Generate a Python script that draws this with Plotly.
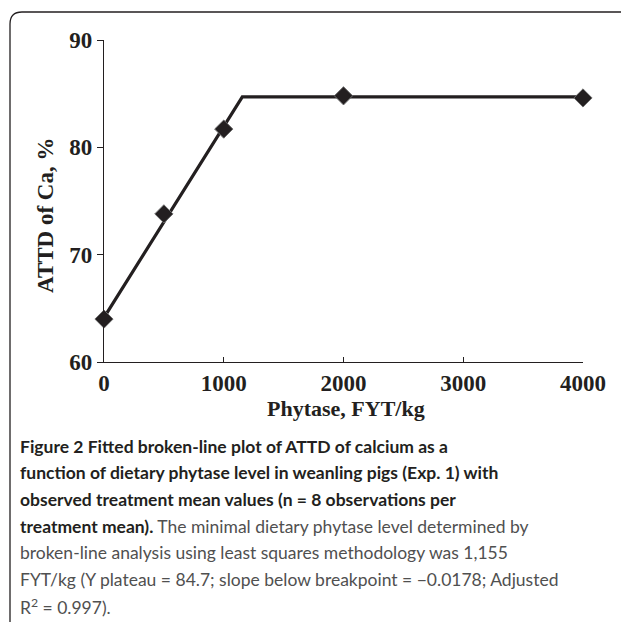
import plotly.graph_objects as go

# Observed treatment means
phytase = [0, 500, 1000, 2000, 4000]
attd_ca = [64.0, 73.8, 81.7, 84.8, 84.6]

# Fitted broken-line (breakpoint at 1,155 FYT/kg, plateau 84.7)
fit_x = [0, 1155, 4000]
fit_y = [64.14, 84.7, 84.7]

x_ticks = [0, 1000, 2000, 3000, 4000]
y_ticks = [60, 70, 80, 90]

OFF = 8  # default page body margin
W, H = 629 - OFF, 630 - 2 * OFF
L, R, T, B = 104, 583, 40, 362  # plot area in page pixels


def px(x):
    return (x - L) / (R - L)


def py(y):
    return (B - y) / (B - T)


fig = go.Figure()
fig.add_trace(go.Scatter(x=fit_x, y=fit_y, mode="lines",
                         line=dict(color="#231f20", width=3.2),
                         hoverinfo="skip", cliponaxis=False))
fig.add_trace(go.Scatter(x=phytase, y=attd_ca, mode="markers",
                         marker=dict(symbol="diamond", size=14, color="#231f20",
                                     line=dict(color="#6b6b6b", width=1)),
                         cliponaxis=False))

serif = "Liberation Serif, Times New Roman, serif"
sans = "Lato, Open Sans, sans-serif"

fig.update_xaxes(range=[0, 4000], tickvals=x_ticks, ticktext=[str(v) for v in x_ticks],
                 showgrid=False, zeroline=False, showline=True, linecolor="#231f20",
                 linewidth=1.2, ticks="inside", ticklen=5, tickcolor="#231f20",
                 tickfont=dict(family=serif, size=23, color="#231f20", weight="bold"),
                 ticklabelstandoff=0)
fig.update_yaxes(range=[60, 90], tickvals=y_ticks, ticktext=[str(v) for v in y_ticks],
                 showgrid=False, zeroline=False, showline=True, linecolor="#231f20",
                 linewidth=1.2, ticks="outside", ticklen=6, tickcolor="#231f20",
                 tickfont=dict(family=serif, size=23, color="#231f20", weight="bold"))

annotations = [
    dict(text="<b>Phytase, FYT/kg</b>", x=px(346), y=py(408), xref="paper", yref="paper",
         showarrow=False, font=dict(family=serif, size=22, color="#231f20"),
         xanchor="center", yanchor="middle"),
    dict(text="<b>ATTD of Ca, %</b>", x=px(46), y=py(216), xref="paper", yref="paper",
         showarrow=False, textangle=-90, font=dict(family=serif, size=23, color="#231f20"),
         xanchor="center", yanchor="middle"),
]

grey = "#505050"
cap_lines = [
    "<b>Figure 2 Fitted broken-line plot of ATTD of calcium as a</b>",
    "<b>function of dietary phytase level in weanling pigs (Exp. 1) with</b>",
    "<b>observed treatment mean values (n = 8 observations per</b>",
    "<b>treatment mean).</b><span style='color:%s'> The minimal dietary phytase level determined by</span>" % grey,
    "<span style='color:%s'>broken-line analysis using least squares methodology was 1,155</span>" % grey,
    "<span style='color:%s'>FYT/kg (Y plateau = 84.7; slope below breakpoint = \u22120.0178; Adjusted</span>" % grey,
    "<span style='color:%s'>R<sup>2</sup> = 0.997).</span>" % grey,
]
y0 = 446
for i, t in enumerate(cap_lines):
    annotations.append(dict(text=t, x=px(18), y=py(y0 + i * 26.7), xref="paper", yref="paper",
                            showarrow=False, xanchor="left", yanchor="middle",
                            font=dict(family=sans, size=17.5, color="#231f20")))

# Rounded frame around figure (right and bottom run off the image)
x1, x2, y1, y2, r = 10, 637, 12, 640, 12
path = (f"M {px(x1)},{py(y2)} L {px(x1)},{py(y1 + r)} "
        f"Q {px(x1)},{py(y1)} {px(x1 + r)},{py(y1)} "
        f"L {px(x2 - r)},{py(y1)} Q {px(x2)},{py(y1)} {px(x2)},{py(y1 + r)}")
shapes = [dict(type="path", path=path, xref="paper", yref="paper",
               line=dict(color="#231f20", width=1.3))]

fig.update_layout(width=W, height=H,
                  margin=dict(l=L - OFF, r=(OFF + W) - R, t=T - OFF, b=(OFF + H) - B),
                  plot_bgcolor="white", paper_bgcolor="white", showlegend=False,
                  annotations=annotations, shapes=shapes)

fig.write_html("out.html")
